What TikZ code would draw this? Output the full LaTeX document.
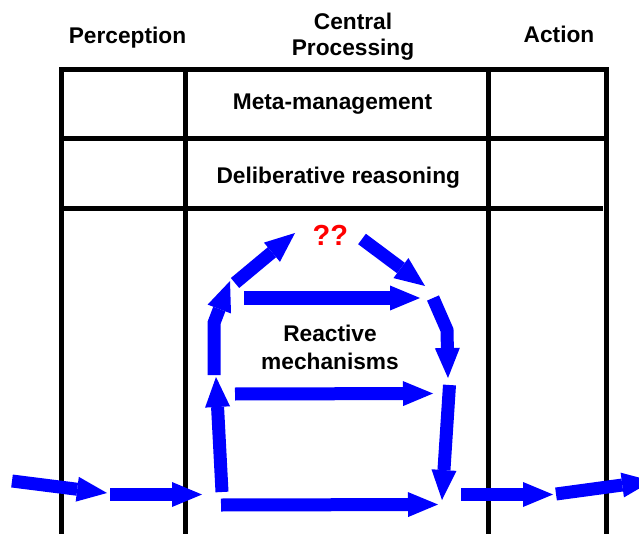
\documentclass[tikz,border=0pt]{standalone}
\usepackage{fontspec}
\setmainfont{Liberation Sans}
\usetikzlibrary{arrows.meta}
\begin{document}
\begin{tikzpicture}[x=1pt,y=-1pt,
  gridline/.style={line width=5pt, line join=miter},
  lbl/.style={font=\fontsize{22.7}{26}\selectfont\bfseries, inner sep=0pt, anchor=base},
  flow/.style={draw=blue, line width=13pt, line join=miter,
    -{Triangle[length=30pt,width=25pt,line width=0pt]}},
]
\useasboundingbox (0,0) rectangle (639,534);
% grid
\draw[gridline] (61,545) -- (61,69.5) -- (606.5,69.5) -- (606.5,545);
\draw[gridline] (185.5,69.5) -- (185.5,545);
\draw[gridline] (488.5,69.5) -- (488.5,545);
\draw[gridline] (61,138.5) -- (606.5,138.5);
\draw[gridline] (61,209) -- (603,209);
% headings and labels
\node[lbl] (perc) at (127.5,43.3) {Perception};
\node[lbl] (cen1) at (353,29.3) {Central};
\node[lbl] (cen2) at (353,56) {Processing};
\node[lbl] (act) at (559,42.7) {Action};
\node[lbl] (meta) at (332.5,110) {Meta-management};
\node[lbl] (delib) at (338.3,183.3) {Deliberative reasoning};
\node[lbl] (react1) at (330,341.7) {Reactive};
\node[lbl] (react2) at (330,369.3) {mechanisms};
\node[lbl, text=red, font=\fontsize{29}{32}\selectfont\bfseries] (qq) at (330.4,246) {??};
% arrow end points
\coordinate (i1) at (12,481);    \coordinate (i2) at (107,493);
\coordinate (j1) at (110,494.5); \coordinate (j2) at (202,494.5);
\coordinate (u1) at (222,492);   \coordinate (u2) at (216,377);
\coordinate (v1) at (214,375);   \coordinate (vb) at (214,323); \coordinate (v2) at (230,281);
\coordinate (w1) at (235,283);   \coordinate (w2) at (295,233);
\coordinate (x1) at (362,239);   \coordinate (x2) at (425,286);
\coordinate (h1) at (244,298);   \coordinate (h2) at (420,298);
\coordinate (d1) at (433,298);   \coordinate (db) at (447,330); \coordinate (d2) at (448,378);
\coordinate (m1) at (235,394);   \coordinate (m2) at (433,393.5);
\coordinate (e1) at (449.5,385); \coordinate (e2) at (442,500);
\coordinate (b1) at (221,505);   \coordinate (b2) at (438,504.5);
\coordinate (o1) at (461,494.5); \coordinate (o2) at (553,494.5);
\coordinate (q1) at (556,494);   \coordinate (q2) at (652,481);
% arrows
\draw[flow] (i1) -- (i2);
\draw[flow] (j1) -- (j2);
\draw[flow] (u1) -- (u2);
\draw[flow] (v1) -- (vb) -- (v2);
\draw[flow] (w1) -- (w2);
\draw[flow] (x1) -- (x2);
\draw[flow] (h1) -- (h2);
\draw[flow] (d1) -- (db) -- (d2);
\draw[flow] (m1) -- (m2);
\draw[flow] (e1) -- (e2);
\draw[flow] (b1) -- (b2);
\draw[flow] (o1) -- (o2);
\draw[flow] (q1) -- (q2);
\end{tikzpicture}
\end{document}
